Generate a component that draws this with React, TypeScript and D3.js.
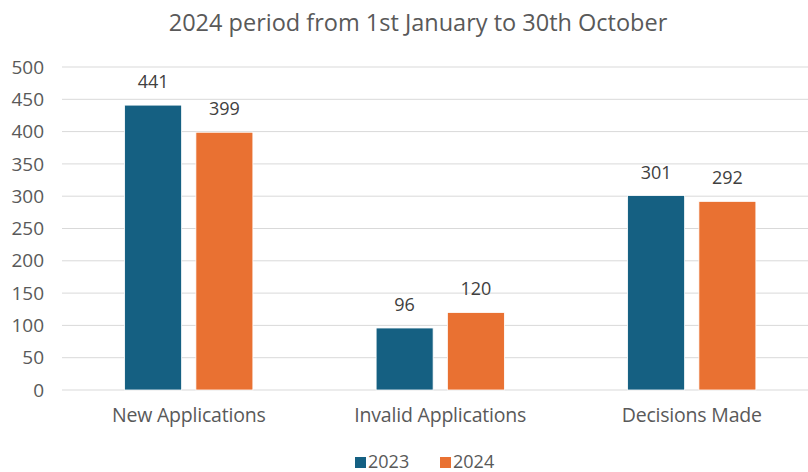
import { useEffect, useRef } from 'react';
import * as d3 from 'd3';

const categories = ['New Applications', 'Invalid Applications', 'Decisions Made'];
const seriesNames = ['2023', '2024'];
const values2023 = [441, 96, 301];
const values2024 = [399, 120, 292];
const yTicks = [0, 50, 100, 150, 200, 250, 300, 350, 400, 450, 500];
const colors = ['#156082', '#E97132'];

const WIDTH = 808;
const HEIGHT = 472;
const FONT = '"Open Sans", "Noto Sans", sans-serif';

export default function App() {
  const svgRef = useRef<SVGSVGElement>(null);

  useEffect(() => {
    if (!svgRef.current) return;
    const svg = d3.select(svgRef.current);
    svg.selectAll('*').remove();

    const rows = categories.map((c, i) => ({
      category: c,
      values: [values2023[i], values2024[i]],
    }));

    const x0 = d3.scaleBand()
      .domain(categories)
      .range([63, 817.5])
      .paddingInner(0.49)
      .paddingOuter(0.245);

    const x1 = d3.scaleBand()
      .domain(seriesNames)
      .range([0, x0.bandwidth()])
      .paddingInner(0.2);

    const y = d3.scaleLinear().domain([0, 500]).range([390, 67]);

    // Gridlines
    svg.append('g')
      .selectAll('line')
      .data(yTicks)
      .enter()
      .append('line')
      .attr('x1', 62)
      .attr('x2', WIDTH)
      .attr('y1', d => y(d))
      .attr('y2', d => y(d))
      .attr('stroke', '#d9d9d9')
      .attr('stroke-width', 1);

    // Y tick labels
    svg.append('g')
      .selectAll('text')
      .data(yTicks)
      .enter()
      .append('text')
      .attr('x', 44)
      .attr('y', d => y(d))
      .attr('dy', '0.35em')
      .attr('text-anchor', 'end')
      .style('font-family', FONT)
      .style('font-size', '19px')
      .style('fill', '#595959')
      .text(d => d);

    // Bars
    const groups = svg.append('g')
      .selectAll('g')
      .data(rows)
      .enter()
      .append('g')
      .attr('transform', d => `translate(${x0(d.category)},0)`);

    groups.selectAll('rect')
      .data(d => d.values.map((v, i) => ({ key: seriesNames[i], value: v, i })))
      .enter()
      .append('rect')
      .attr('x', d => x1(d.key) || 0)
      .attr('y', d => y(d.value))
      .attr('width', x1.bandwidth())
      .attr('height', d => y(0) - y(d.value))
      .attr('fill', d => colors[d.i])
      .attr('stroke', '#ffffff')
      .attr('stroke-width', 0.8);

    // Value labels
    groups.selectAll('text')
      .data(d => d.values.map((v, i) => ({ key: seriesNames[i], value: v })))
      .enter()
      .append('text')
      .attr('x', d => (x1(d.key) || 0) + x1.bandwidth() / 2)
      .attr('y', d => y(d.value) - 17)
      .attr('text-anchor', 'middle')
      .style('font-family', FONT)
      .style('font-size', '18px')
      .style('fill', '#404040')
      .text(d => d.value);

    // Category labels
    svg.append('g')
      .selectAll('text')
      .data(categories)
      .enter()
      .append('text')
      .attr('x', d => (x0(d) || 0) + x0.bandwidth() / 2)
      .attr('y', 422)
      .attr('text-anchor', 'middle')
      .style('font-family', FONT)
      .style('font-size', '19.5px')
      .style('letter-spacing', '-0.2px')
      .style('fill', '#595959')
      .text(d => d);

    // Title
    svg.append('text')
      .attr('x', 418)
      .attr('y', 31)
      .attr('text-anchor', 'middle')
      .style('font-family', FONT)
      .style('font-size', '23.5px')
      .style('fill', '#595959')
      .text('2024 period from 1st January to 30th October');

    // Legend
    const legend = svg.append('g')
      .selectAll('g')
      .data(seriesNames)
      .enter()
      .append('g')
      .attr('transform', (_, i) => `translate(${355 + i * 85},457)`);

    legend.append('rect')
      .attr('width', 11)
      .attr('height', 11)
      .attr('fill', (_, i) => colors[i]);

    legend.append('text')
      .attr('x', 13)
      .attr('y', 11)
      .style('font-family', FONT)
      .style('font-size', '18px')
      .style('fill', '#595959')
      .text(d => d);
  }, []);

  return (
    <svg
      ref={svgRef}
      width={WIDTH}
      height={HEIGHT}
      style={{ position: 'absolute', left: 0, top: 0, background: '#fff' }}
    />
  );
}
